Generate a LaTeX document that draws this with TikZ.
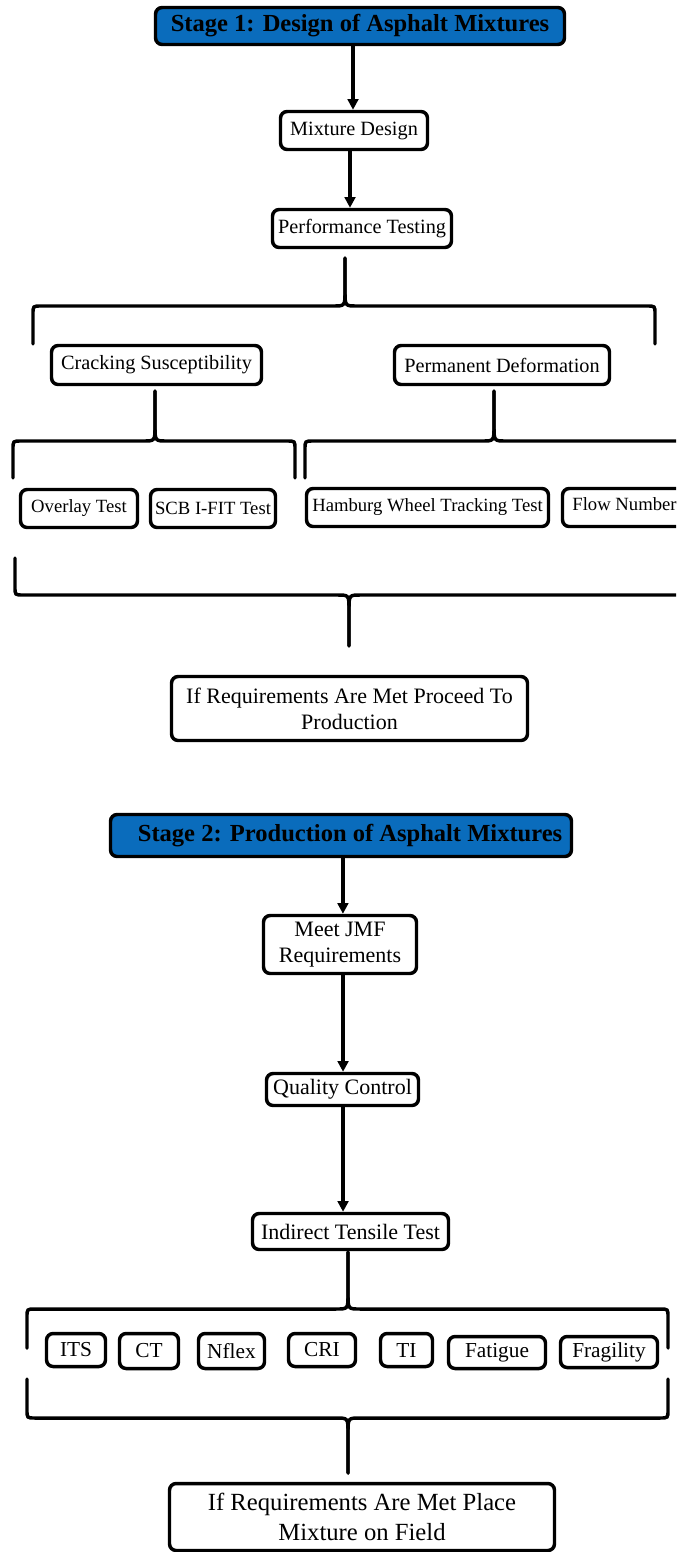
\documentclass[tikz,border=0pt]{standalone}
\usepackage{fontspec}
\setmainfont{Liberation Serif}
\usetikzlibrary{arrows.meta}
\definecolor{stageblue}{HTML}{0A6CBC}
\newcommand\mybrace[7]{%
  \draw[brc] (#1,#5) -- (#1,{#4+#7*8}) .. controls (#1,#4) .. ({#1+8},#4) -- ({#3-12},#4) .. controls (#3,#4) .. (#3,{#4-#7*15}) -- (#3,#6);
  \draw[brc] (#3,#6) -- (#3,{#4-#7*15}) .. controls (#3,#4) .. ({#3+12},#4) -- ({#2-8},#4) .. controls (#2,#4) .. (#2,{#4+#7*8}) -- (#2,#5);}
\begin{document}
\begin{tikzpicture}[x=0.75pt,y=-0.75pt,
  bx/.style={draw, line width=2.6pt, rounded corners=5pt, fill=white, inner sep=0pt, align=center},
  stagebox/.style={bx, fill=stageblue, font=\fontsize{18.4}{22}\selectfont\bfseries},
  wh/.style 2 args={minimum width=#1*0.75pt, minimum height=#2*0.75pt},
  fA/.style={font=\fontsize{15.2}{18}\selectfont},
  fB/.style={font=\fontsize{14}{17}\selectfont},
  fC/.style={font=\fontsize{16.5}{19.5}\selectfont},
  fD/.style={font=\fontsize{16}{19}\selectfont},
  fE/.style={font=\fontsize{18.5}{22.5}\selectfont},
  arr/.style={line width=2.6pt, -{Triangle[length=8pt,width=8pt]}},
  brc/.style={line width=2.6pt, line cap=round}]
\useasboundingbox (0,0) rectangle (676,1552);
\clip (0,0) rectangle (676,1552);
% Stage 1
\node[stagebox, wh={409}{37}] (s1) at (360,26) {Stage 1: Design of Asphalt Mixtures};
\node[bx, fA, wh={147}{38}] (md) at (354,130.5) {Mixture Design};
\node[bx, fA, wh={179}{38}] (pt) at (362,228.5) {Performance Testing};
\node[bx, fA, wh={210}{39}] (cs) at (156.5,365) {Cracking Susceptibility};
\node[bx, fA, wh={215}{39}] (pd) at (502,365) {Permanent Deformation};
\node[bx, fB, wh={117}{38}] (ot) at (79,508.5) {Overlay Test};
\node[bx, fB, wh={125}{38}] (scb) at (213,508.5) {SCB I-FIT Test};
\node[bx, fB, wh={242}{38}] (hw) at (427.5,507.5) {Hamburg Wheel Tracking Test};
\node[bx, fB, wh={124}{38}] (fn) at (624.5,507.5) {};
\node[fB, inner sep=0pt] (fnt) at ([yshift=2.2pt]fn.center) {Flow Number};
\node[bx, fC, wh={356}{64}] (rq1) at (349.5,708.5) {If Requirements Are Met Proceed To\\Production};
\draw[arr] ([xshift=-0.75pt]md.north |- s1.south) -- ([xshift=-0.75pt]md.north);
\draw[arr] ([xshift=-3pt]md.south) -- ([xshift=-3pt]md.south |- pt.north);
\mybrace{33}{655}{345}{306}{344}{258}{1}
\mybrace{13}{295}{155}{441}{478}{391}{1}
\mybrace{305}{683}{494}{441}{478}{391}{1}
\mybrace{15}{683}{349}{595}{558}{646}{-1}
% Stage 2
\node[bx, fill=stageblue, wh={461}{42}] (s2) at (341,835.5) {};
\node[font=\fontsize{18.4}{22}\selectfont\bfseries, inner sep=0pt] (s2t) at ([xshift=6.8pt]s2.center) {Stage 2: Production of Asphalt Mixtures};
\node[bx, fC, wh={153}{58}] (jmf) at (340,944.5) {Meet JMF\\Requirements};
\node[bx, fC, wh={152}{32}] (qc) at (342.5,1089.5) {Quality Control};
\node[bx, fC, wh={196}{36}] (itt) at (350.5,1231.5) {Indirect Tensile Test};
\draw[arr] ([xshift=2.2pt]jmf.north |- s2.south) -- ([xshift=2.2pt]jmf.north);
\draw[arr] ([xshift=0.4pt]qc.north |- jmf.south) -- ([xshift=0.4pt]qc.north);
\draw[arr] ([xshift=0.4pt]qc.south) -- ([xshift=0.4pt]qc.south |- itt.north);
\mybrace{27}{668}{348}{1309}{1348}{1252}{1}
\node[bx, fD, wh={59}{33}] (its) at (76,1350) {ITS};
\node[bx, fD, wh={59}{35}] (ct) at (149,1351) {CT};
\node[bx, fD, wh={66}{35}] (nf) at (231.5,1351) {Nflex};
\node[bx, fD, wh={67}{33}] (cri) at (322,1350) {CRI};
\node[bx, fD, wh={52}{33}] (ti) at (406.5,1350) {TI};
\node[bx, fD, wh={97}{32}] (fat) at (497,1352.5) {Fatigue};
\node[bx, fD, wh={97}{31}] (fra) at (609,1352) {Fragility};
\mybrace{27}{668}{348}{1418}{1379}{1473}{-1}
\node[bx, fE, wh={385}{67}] (rq2) at (362,1517) {If Requirements Are Met Place\\Mixture on Field};
\end{tikzpicture}
\end{document}
